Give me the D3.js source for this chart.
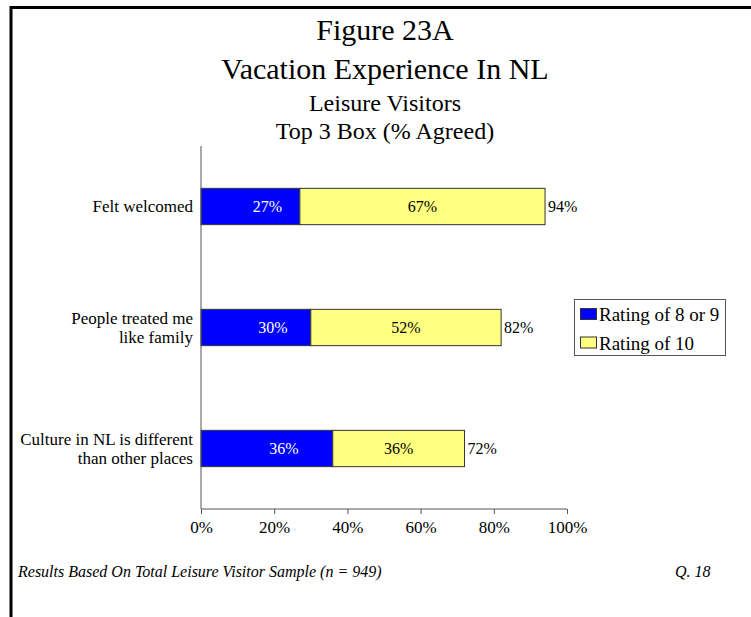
<!DOCTYPE html>
<html>
<head>
<meta charset="utf-8">
<script src="https://cdn.jsdelivr.net/npm/d3@7"></script>
<style>
  body { margin: 0; background: #fff; }
  svg { display: block; font-family: "Liberation Serif", "Times New Roman", serif; }
</style>
</head>
<body>
<svg id="chart" width="751" height="617"></svg>
<script>
// ---- data ----
const titleLines = ["Figure 23A", "Vacation Experience In NL", "Leisure Visitors", "Top 3 Box (% Agreed)"];
const categories = [
  ["Felt welcomed"],
  ["People treated me", "like family"],
  ["Culture in NL is different", "than other places"]
];
const seriesNames = ["Rating of 8 or 9", "Rating of 10"];
const rating8or9 = [27, 30, 36];
const rating10 = [67, 52, 36];
const totals = [94, 82, 72];
const tickValues = [0, 20, 40, 60, 80, 100];
const footnote = "Results Based On Total Leisure Visitor Sample (n = 949)";
const questionRef = "Q. 18";

const colors = ["#0000FF", "#FFFF80"];
const labelColors = ["#FFFFFF", "#000000"];

// ---- layout ----
const W = 751, H = 617;
const plot = { left: 201, right: 567, top: 146, bottom: 509 };

const svg = d3.select("#chart");
svg.append("rect").attr("width", W).attr("height", H).attr("fill", "#fff");

// frame lines (top and left)
svg.append("line").attr("x1", 10).attr("x2", W).attr("y1", 7.5).attr("y2", 7.5)
  .attr("stroke", "#000").attr("stroke-width", 3);
svg.append("line").attr("x1", 11).attr("x2", 11).attr("y1", 6).attr("y2", H)
  .attr("stroke", "#000").attr("stroke-width", 3);

// titles
const titleSizes = [30, 30, 24, 24];
const titleBaselines = [40, 79, 111, 139];
svg.selectAll("text.title").data(titleLines).join("text")
  .attr("class", "title")
  .attr("x", 385)
  .attr("y", (d, i) => titleBaselines[i])
  .attr("text-anchor", "middle")
  .attr("font-size", (d, i) => titleSizes[i])
  .attr("fill", "#000")
  .text(d => d);

// scales
const x = d3.scaleLinear().domain([0, 100]).range([plot.left, plot.right]);
const y = d3.scaleBand().domain(d3.range(categories.length))
  .range([plot.top, plot.bottom]).paddingInner(0.7).paddingOuter(0.35);

// stacked data
const rows = categories.map((c, i) => ({ idx: i, s0: rating8or9[i], s1: rating10[i] }));
const stack = d3.stack().keys(["s0", "s1"]);
const layers = stack(rows);

const g = svg.append("g");
layers.forEach((layer, li) => {
  g.selectAll(null).data(layer).join("rect")
    .attr("x", d => x(d[0]))
    .attr("y", d => y(d.data.idx))
    .attr("width", d => x(d[1]) - x(d[0]))
    .attr("height", y.bandwidth())
    .attr("fill", colors[li])
    .attr("stroke", "#333")
    .attr("stroke-width", 1);
  g.selectAll(null).data(layer).join("text")
    .attr("x", d => (x(d[0]) + x(d[1])) / 2 + (li === 0 ? 17 : 0))
    .attr("y", d => y(d.data.idx) + y.bandwidth() / 2)
    .attr("dy", "0.33em")
    .attr("text-anchor", "middle")
    .attr("font-size", 16)
    .attr("fill", labelColors[li])
    .text(d => (d[1] - d[0]) + "%");
});

// totals
g.selectAll("text.total").data(totals).join("text")
  .attr("class", "total")
  .attr("x", d => x(d) + 3)
  .attr("y", (d, i) => y(i) + y.bandwidth() / 2)
  .attr("dy", "0.33em")
  .attr("font-size", 16)
  .text(d => d + "%");

// x axis
const xAxis = d3.axisBottom(x).tickValues(tickValues).tickFormat(d => d + "%").tickSize(5).tickPadding(7);
const ax = svg.append("g").attr("transform", `translate(0,${plot.bottom})`).call(xAxis);
ax.select(".domain").attr("stroke", "#555").attr("d", `M${plot.left},0H${plot.right}`);
ax.selectAll(".tick line").attr("stroke", "#555");
ax.selectAll(".tick text").attr("font-size", 17).attr("font-family", "Liberation Serif, Times New Roman, serif").attr("fill", "#000");

// y axis line
svg.append("line").attr("x1", plot.left).attr("x2", plot.left)
  .attr("y1", plot.top).attr("y2", plot.bottom)
  .attr("stroke", "#555").attr("stroke-width", 1);

// category labels
categories.forEach((lines, i) => {
  const cy = y(i) + y.bandwidth() / 2;
  const lh = 19;
  const t = svg.append("text")
    .attr("text-anchor", "end")
    .attr("font-size", 17)
    .attr("fill", "#000");
  lines.forEach((ln, j) => {
    t.append("tspan")
      .attr("x", plot.left - 8)
      .attr("y", cy + 5.5 - (lines.length - 1) * lh / 2 + j * lh)
      .text(ln);
  });
});

// legend
const legend = svg.append("g");
legend.append("rect").attr("x", 574.5).attr("y", 299.5).attr("width", 151).attr("height", 56)
  .attr("fill", "#fff").attr("stroke", "#555").attr("stroke-width", 1);
seriesNames.forEach((name, i) => {
  legend.append("rect").attr("x", 580.5).attr("y", 308.5 + i * 28.5).attr("width", 16).attr("height", 11)
    .attr("fill", colors[i]).attr("stroke", "#333").attr("stroke-width", 1);
  legend.append("text").attr("x", 599).attr("y", 321 + i * 28.5)
    .attr("font-size", 19).attr("fill", "#000").text(name);
});

// footnotes
svg.append("text").attr("x", 18).attr("y", 577).attr("font-size", 16)
  .attr("font-style", "italic").text(footnote);
svg.append("text").attr("x", 675).attr("y", 577).attr("font-size", 16)
  .attr("font-style", "italic").text(questionRef);
</script>
</body>
</html>
